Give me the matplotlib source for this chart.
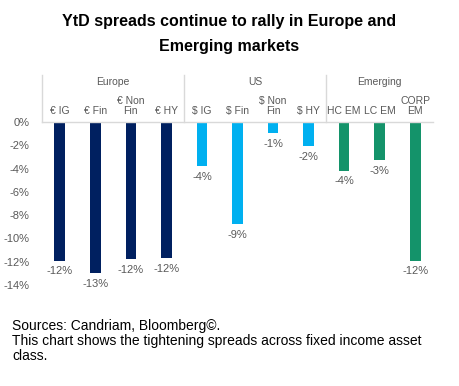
import matplotlib.pyplot as plt
from matplotlib.transforms import blended_transform_factory

plt.rcParams['font.family'] = ['Liberation Sans', 'DejaVu Sans']

# data
categories = ['€ IG', '€ Fin', '€ Non\nFin', '€ HY', '$ IG', '$ Fin', '$ Non\nFin', '$ HY',
              'HC EM', 'LC EM', 'CORP\nEM']
values = [-11.9, -13.0, -11.8, -11.7, -3.8, -8.8, -0.95, -2.1, -4.2, -3.3, -11.9]
labels = ['-12%', '-13%', '-12%', '-12%', '-4%', '-9%', '-1%', '-2%', '-4%', '-3%', '-12%']
groups = ['Europe', 'US', 'Emerging']
group_sizes = [4, 4, 3]
group_colors = ['#002060', '#00B0F0', '#14936A']
yticks = [0, -2, -4, -6, -8, -10, -12, -14]

colors = []
for c, n in zip(group_colors, group_sizes):
    colors += [c] * n

fig = plt.figure(figsize=(4.59, 3.86), dpi=100)
ax = fig.add_axes([42 / 459, 1 - 285 / 386, 391 / 459, 163 / 386])

x = list(range(len(categories)))
ax.bar(x, values, width=0.3, color=colors)
ax.set_xlim(-0.5, len(categories) - 0.5)
ax.set_ylim(-14, 0)

ax.set_yticks(yticks)
ax.set_yticklabels(['%d%%' % t for t in yticks], color='#595959', fontsize=8)
ax.tick_params(axis='y', length=0, pad=9)
ax.set_xticks([])
for s in ax.spines.values():
    s.set_visible(False)

# data labels
for xi, v, lab in zip(x, values, labels):
    ax.annotate(lab, (xi, v), xytext=(0, -4), textcoords='offset points',
                ha='center', va='top', fontsize=8, color='#595959', annotation_clip=False)

# header: category names, group names, separator lines
tr = blended_transform_factory(ax.transData, ax.transAxes)
for xi, c in zip(x, categories):
    ax.text(xi, 1 + 6 / 163, c, transform=tr, ha='center', va='bottom', fontsize=7.5,
            color='#595959', linespacing=1.0)

line_col = '#D9D9D9'
ax.plot([-0.5, len(categories) - 0.5], [1, 1], transform=tr, color=line_col, lw=1, clip_on=False)
start = -0.5
for g, n in zip(groups, group_sizes):
    ax.plot([start, start], [1, 1 + 47 / 163], transform=tr, color=line_col, lw=1, clip_on=False)
    ax.text(start + n / 2, 1 + 40 / 163, g, transform=tr, ha='center', va='center',
            fontsize=7.5, color='#595959')
    start += n

fig.text(0.5, 1 - 34 / 386, 'YtD spreads continue to rally in Europe and\nEmerging markets',
         ha='center', va='center', fontsize=11.5, fontweight='bold', linespacing=1.85)

fig.text(12 / 459, 1 - 341 / 386, 'Sources: Candriam, Bloomberg©.\n'
         'This chart shows the tightening spreads across fixed income asset\nclass.',
         ha='left', va='center', fontsize=10, linespacing=1.1)

fig.savefig('out.png', dpi=100)
plt.close('all')
